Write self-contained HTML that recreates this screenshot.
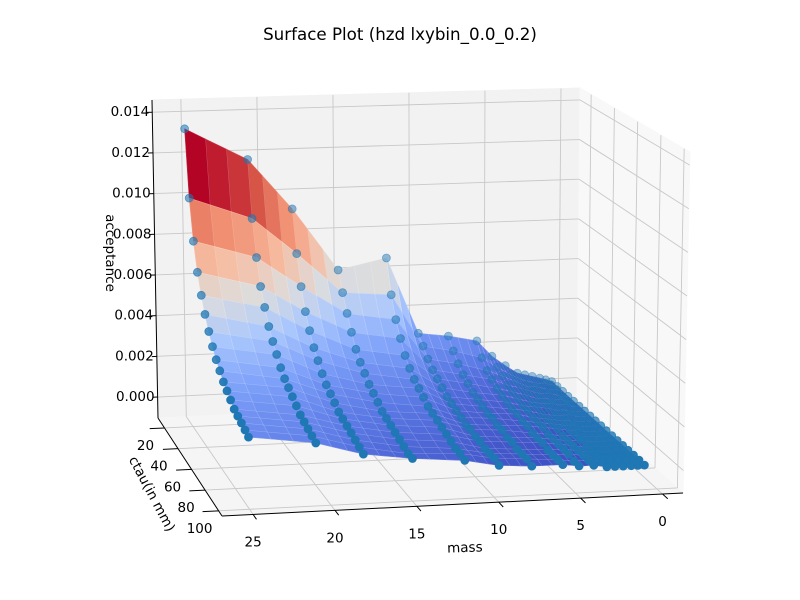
<!DOCTYPE html>
<html><head><meta charset="utf-8"><style>
html,body{margin:0;padding:0;background:#fff;}
svg{display:block;font-family:"DejaVu Sans","Liberation Sans",sans-serif;}
</style></head><body>
<svg id="chart" width="800" height="600" viewBox="0 0 800 600">
<text x="400" y="40" text-anchor="middle" font-size="16.7" fill="#000">Surface Plot (hzd lxybin_0.0_0.2)</text>
<g id="panes"></g>
<g id="grid"></g>
<g id="axes"></g>
<g id="surf"></g>
<g id="dots"></g>
<text x="0" y="0" transform="translate(106,253) rotate(90)" text-anchor="middle" font-size="13.5">acceptance</text>
<text x="0" y="0" transform="translate(148,496) rotate(62)" text-anchor="middle" font-size="13.5">ctau(in mm)</text>
<text x="0" y="0" transform="translate(465,552) rotate(-2)" text-anchor="middle" font-size="13.5">mass</text>
</svg>
<script>
const massValues=[25,20.9,18,15,11.8,9.7,7.7,5.8,4.8,3.9,3.1,2.6,2.1,1.6,1.2,0.8];
const ctauValues=[15,20,25,30,35,40,45,50,55,60,65,70,75,80,85,90,95,100];
const acceptance=[
[.0133,.0101,.0082,.0069,.0060,.0053,.0047,.0042,.0038,.0035,.0032,.0030,.0028,.0026,.0025,.0024,.0023,.0022],
[.0117,.0090,.0073,.0061,.0053,.0046,.0041,.0037,.0033,.0030,.0028,.0026,.0024,.0022,.0021,.0020,.0019,.0018],
[.0092,.0072,.0058,.0048,.0041,.0035,.0031,.0027,.0024,.0022,.0020,.0018,.0017,.0016,.0015,.0014,.0013,.0012],
[.0061,.0052,.0044,.0037,.0031,.0027,.0024,.0021,.0019,.0017,.0015,.0014,.0013,.0012,.0011,.0010,.0009,.0009],
[.0066,.0050,.0040,.0033,.0027,.0023,.0020,.0018,.0016,.0014,.0013,.0012,.0011,.0010,.0009,.0008,.0008,.0007],
[.0028,.0024,.0020,.0017,.0015,.0013,.0011,.0010,.0009,.0008,.0007,.0007,.0006,.0006,.0005,.0005,.0005,.0004],
[.0026,.0021,.0017,.0014,.0012,.0010,.0009,.0008,.0007,.0007,.0006,.0006,.0005,.0005,.0004,.0004,.0004,.0003],
[.0023,.0017,.0013,.0011,.0009,.0008,.0007,.0006,.0006,.0005,.0005,.0004,.0004,.0004,.0003,.0003,.0003,.0003],
[.0015,.0012,.0010,.0008,.0007,.0006,.0005,.0005,.0004,.0004,.0004,.0003,.0003,.0003,.0003,.0003,.0002,.0002],
[.0010,.0008,.0007,.0006,.0005,.0004,.0004,.0003,.0003,.0003,.0003,.0002,.0002,.0002,.0002,.0002,.0002,.0002],
[.0006,.0005,.0004,.0004,.0003,.0003,.0003,.0002,.0002,.0002,.0002,.0002,.0002,.0001,.0001,.0001,.0001,.0001],
[.0005,.0004,.0004,.0003,.0003,.0003,.0002,.0002,.0002,.0002,.0002,.0001,.0001,.0001,.0001,.0001,.0001,.0001],
[.0004,.0003,.0003,.0003,.0002,.0002,.0002,.0002,.0001,.0001,.0001,.0001,.0001,.0001,.0001,.0001,.0001,.0001],
[.0003,.0003,.0002,.0002,.0002,.0002,.0001,.0001,.0001,.0001,.0001,.0001,.0001,.0001,.0001,.0001,.0001,.0001],
[.0002,.0002,.0002,.0001,.0001,.0001,.0001,.0001,.0001,.0001,.0001,.0001,.0001,.0001,.0001,.0001,.0001,.0001],
[.0001,.0001,.0001,.0001,.0001,.0001,.0001,.0001,.0001,.0001,.0001,.0001,.0001,.0001,.0001,.0001,.0001,.0001]];
const massTicks=[25,20,15,10,5,0];
const ctauTicks=[20,40,60,80,100];
const zTicks=[0,0.002,0.004,0.006,0.008,0.010,0.012,0.014];
const zTickLabels=["0.000","0.002","0.004","0.006","0.008","0.010","0.012","0.014"];

const NS="http://www.w3.org/2000/svg";
const M0=26.9,M1=-1.25,C0=10.4,C1=105,Z0=-0.00103,Z1=0.0146;
const F=[[158,418],[577,398],[222,516],[683,493]];
const T=[[152,100],[580,88],[216,164],[690,152]];
function um(m){return (M0-m)/(M0-M1);}
function vc(c){return (c-C0)/(C1-C0);}
function wz(z){return (z-Z0)/(Z1-Z0);}
function bil(Q,u,v){return [Q[0][0]*(1-u)*(1-v)+Q[1][0]*u*(1-v)+Q[2][0]*(1-u)*v+Q[3][0]*u*v,
 Q[0][1]*(1-u)*(1-v)+Q[1][1]*u*(1-v)+Q[2][1]*(1-u)*v+Q[3][1]*u*v];}
function P(u,v,w){const a=bil(F,u,v),b=bil(T,u,v);return [a[0]+(b[0]-a[0])*w,a[1]+(b[1]-a[1])*w];}
function el(tag,attrs,parent){const e=document.createElementNS(NS,tag);for(const k in attrs)e.setAttribute(k,attrs[k]);parent.appendChild(e);return e;}
function poly(pts){return pts.map(p=>p[0].toFixed(1)+","+p[1].toFixed(1)).join(" ");}
const panes=document.getElementById('panes'),grid=document.getElementById('grid'),axes=document.getElementById('axes');
let e;
e=el('polygon',{points:poly([P(0,0,0),P(1,0,0),P(1,0,1),P(0,0,1)]),fill:'#f2f2f2',stroke:'#f2f2f2'},panes);

e=el('polygon',{points:poly([P(1,0,0),P(1,1,0),P(1,1,1),P(1,0,1)]),fill:'#f8f8f8',stroke:'#f8f8f8'},panes);

e=el('polygon',{points:poly([P(0,0,0),P(1,0,0),P(1,1,0),P(0,1,0)]),fill:'#f5f5f5',stroke:'#f5f5f5'},panes);

function gl(a,b,name){const l=el('line',{x1:a[0],y1:a[1],x2:b[0],y2:b[1],stroke:'#c8c8c8','stroke-width':0.9},grid);
 }
massTicks.forEach(m=>{const u=um(m);gl(P(u,0,0),P(u,0,1),'mass-grid-back');gl(P(u,0,0),P(u,1,0),'mass-grid-floor');});
ctauTicks.forEach(c=>{const v=vc(c);gl(P(1,v,0),P(1,v,1),'ctau-grid-side');gl(P(0,v,0),P(1,v,0),'ctau-grid-floor');});
zTicks.forEach(z=>{const w=wz(z);gl(P(0,0,w),P(1,0,w),'z-grid-back');gl(P(1,0,w),P(1,1,w),'z-grid-side');});
function al(a,b,name){const l=el('line',{x1:a[0],y1:a[1],x2:b[0],y2:b[1],stroke:'#000','stroke-width':1},axes);
 }
al(P(0,1,0),P(1,1,0),'mass-axis-line');al(P(0,0,0),P(0,1,0),'ctau-axis-line');al(P(0,0,0),P(0,0,1),'z-axis-line');
function tx(x,y,s,anchor,name){const t=el('text',{x:x,y:y,'font-size':13.5,'text-anchor':anchor,'dominant-baseline':'middle'},axes);
 t.textContent=s;}
massTicks.forEach(m=>{const u=um(m);const a=P(u,1,0),b=P(u,1.05,0);al(a,b,'mass-tick');tx(a[0],a[1]+28,String(m),'middle','mass-tick-label');});
ctauTicks.forEach(c=>{const v=vc(c);const a=P(0,v,0),b=P(-0.035,v,0);al(a,b,'ctau-tick');tx(a[0]-19,a[1]+18,String(c),'middle','ctau-tick-label');});
zTicks.forEach((z,i)=>{const w=wz(z);const a=P(0,0,w),b=P(-0.012,0,w);al(a,b,'z-tick');tx(a[0]-3,a[1],zTickLabels[i],'end','z-tick-label');});

const stops=[[0,[59,76,192]],[0.125,[90,120,228]],[0.25,[124,159,249]],[0.375,[170,199,253]],[0.5,[221,221,221]],[0.625,[246,189,162]],[0.75,[241,144,115]],[0.875,[214,82,68]],[1,[180,4,38]]];
function cmap(t){t=Math.max(0,Math.min(1,t));for(let i=1;i<stops.length;i++){if(t<=stops[i][0]){const a=stops[i-1],b=stops[i];const f=(t-a[0])/(b[0]-a[0]);
 return 'rgb('+[0,1,2].map(k=>Math.round(a[1][k]+(b[1][k]-a[1][k])*f)).join(',')+')';}}return 'rgb(180,4,38)';}
const SUB=3;
const gridM=[],gridZ=[];
for(let i=0;i<massValues.length-1;i++){for(let s=0;s<SUB;s++){const f=s/SUB;
 gridM.push(massValues[i]+(massValues[i+1]-massValues[i])*f);
 gridZ.push(acceptance[i].map((z,j)=>z+(acceptance[i+1][j]-z)*f));}}
gridM.push(massValues[massValues.length-1]);gridZ.push(acceptance[acceptance.length-1].slice());
const faces=[];
for(let i=0;i<gridM.length-1;i++)for(let j=0;j<ctauValues.length-1;j++){
 const q=[[i,j],[i+1,j],[i+1,j+1],[i,j+1]];
 let zs=0,near=0;const pts=q.map(([a,b])=>{const u=um(gridM[a]),v=vc(ctauValues[b]);zs+=gridZ[a][b];near+=v+(1-u)*0.25;return P(u,v,wz(gridZ[a][b]));});
 faces.push({pts:pts,z:zs/4,near:near/4});}
let fmin=Infinity,fmax=-Infinity;faces.forEach(f=>{fmin=Math.min(fmin,f.z);fmax=Math.max(fmax,f.z);});
faces.sort((a,b)=>a.near-b.near);
const surf=document.getElementById('surf');
faces.forEach(f=>{const c=cmap((f.z-fmin)/(fmax-fmin));
 const p=el('polygon',{points:poly(f.pts),fill:c,stroke:c,'stroke-width':0.6,'stroke-linejoin':'round'},surf);
 });
faces.forEach(f=>{const p=el('polygon',{points:poly(f.pts),fill:'none',stroke:'rgba(255,255,255,0.16)','stroke-width':0.5},surf);
 });
const dots=document.getElementById('dots');const pl=[];
massValues.forEach((m,i)=>ctauValues.forEach((c,j)=>{const u=um(m),v=vc(c);pl.push({p:P(u,v,wz(acceptance[i][j])),near:v+(1-u)*0.25});}));
pl.sort((a,b)=>a.near-b.near);
pl.forEach(d=>{const op=0.4+0.6*Math.min(1,Math.max(0,(d.near-0.05)/0.85));
 const c=el('circle',{cx:d.p[0].toFixed(1),cy:d.p[1].toFixed(1),r:4,fill:'#1f77b4','fill-opacity':op.toFixed(2),stroke:'#1f77b4','stroke-opacity':op.toFixed(2),'stroke-width':0.8},dots);
 });
</script>
</body></html>
